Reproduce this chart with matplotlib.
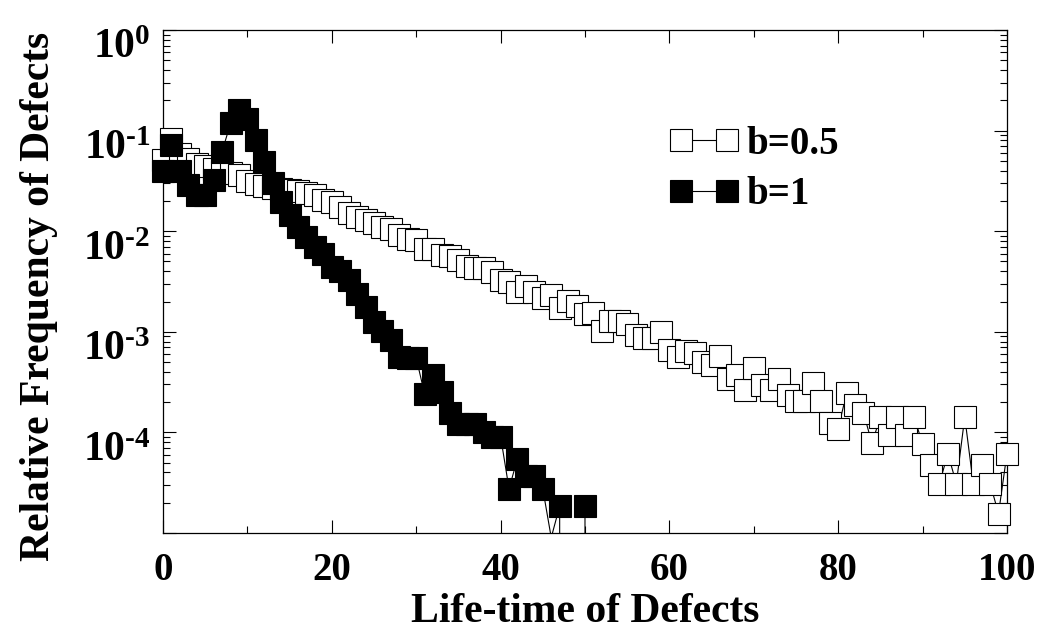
import numpy as np
import matplotlib
matplotlib.use('Agg')
import matplotlib.pyplot as plt
from matplotlib.lines import Line2D
from matplotlib.transforms import ScaledTranslation
from matplotlib.ticker import FixedLocator, FixedFormatter, LogLocator, NullFormatter, MultipleLocator

# life-time of defects (x) and relative frequency
life_b05 = list(range(0, 101))
freq_b05 = [0.051, 0.082, 0.059, 0.052, 0.047, 0.0446, 0.042, 0.039, 0.0376, 0.0362,
            0.0318, 0.0292, 0.0282, 0.027, 0.026, 0.0255, 0.0251, 0.0238, 0.0229, 0.0204,
            0.0195, 0.0173, 0.0153, 0.0139, 0.0129, 0.0120, 0.0109, 0.0104, 0.00916, 0.0083,
            0.0081, 0.0067, 0.0067, 0.0058, 0.0057, 0.00517, 0.0045, 0.00427, 0.0043, 0.0039,
            0.00327, 0.00316, 0.00248, 0.00285, 0.00248, 0.00218, 0.00232, 0.00172, 0.00202, 0.0018,
            0.00149, 0.00155, 0.00102, 0.00129, 0.00129, 0.00119, 9.3e-4, 8.7e-4, 8.6e-4, 9.9e-4,
            6.6e-4, 5.6e-4, 6.4e-4, 6.2e-4, 5.0e-4, 4.66e-4, 5.73e-4, 3.38e-4, 3.76e-4, 2.63e-4,
            4.35e-4, 2.99e-4, 2.63e-4, 3.4e-4, 2.34e-4, 2.04e-4, 2.04e-4, 3.13e-4, 2.04e-4, 1.24e-4,
            1.09e-4, 2.47e-4, 1.86e-4, 1.57e-4, 7.8e-5, 1.42e-4, 9.4e-5, 1.42e-4, 9.4e-5, 1.42e-4,
            7.7e-5, 4.7e-5, 3.1e-5, 6.15e-5, 3.1e-5, 1.42e-4, 3.1e-5, 4.7e-5, 3.1e-5, 1.56e-5,
            6.15e-5]

life_b1 = list(range(0, 51))
freq_b1 = [0.040, 0.072, 0.040, 0.029, 0.023, 0.023, 0.032, 0.062, 0.118, 0.16,
           0.13, 0.081, 0.049, 0.030, 0.0196, 0.0144, 0.011, 0.0088, 0.0070, 0.0060,
           0.0044, 0.0040, 0.00325, 0.0024, 0.00177, 0.00126, 0.00103, 8.3e-4, 5.6e-4, 5.5e-4,
           5.5e-4, 2.4e-4, 3.75e-4, 2.5e-4, 1.56e-4, 1.2e-4, 1.2e-4, 1.2e-4, 1.0e-4, 9.1e-5,
           9.1e-5, 2.75e-5, 5.5e-5, 3.7e-5, 3.7e-5, 2.75e-5, 9.0e-6, 1.85e-5, 0.0, 0.0,
           1.85e-5]

series_labels = ['b=0.5', 'b=1']
y_decades = [1e0, 1e-1, 1e-2, 1e-3, 1e-4, 1e-5]
y_ticklabels = [r'$\mathbf{10^{0}}$', r'$\mathbf{10^{\text{-}1}}$', r'$\mathbf{10^{\text{-}2}}$',
                r'$\mathbf{10^{\text{-}3}}$', r'$\mathbf{10^{\text{-}4}}$', '']

plt.rcParams['font.family'] = 'Liberation Serif'
plt.rcParams['font.weight'] = 'bold'
plt.rcParams['mathtext.fontset'] = 'custom'
plt.rcParams['mathtext.rm'] = 'Liberation Serif:bold'
plt.rcParams['mathtext.bf'] = 'Liberation Serif:bold'
plt.rcParams['mathtext.it'] = 'Liberation Serif:bold'

FS = 28
MS = 16
YMIN, YMAX = 1e-5, 1e0

fig = plt.figure(figsize=(10.41, 6.43), dpi=100)
ax = fig.add_axes([0.1566, 0.1711, 0.9673 - 0.1566, 0.9533 - 0.1711])

ax.set_yscale('log')

# connecting lines (clipped), then unclipped markers on top of the frame
styles = [dict(mfc='white'), dict(mfc='black')]
for xs, ys, st in [(life_b05, freq_b05, styles[0]), (life_b1, freq_b1, styles[1])]:
    ys = np.array(ys, dtype=float)
    ax.plot(xs, ys, '-', color='black', lw=0.8, zorder=2)
    # points below the axis floor get no marker
    ax.plot(xs, np.where(ys >= YMIN, ys, np.nan), 's', ms=MS, mec='black', mew=0.8,
            clip_on=False, zorder=3, **st)

ax.set_xlim(0, 100)
ax.set_ylim(YMIN, YMAX)

ax.xaxis.set_major_locator(MultipleLocator(20))
ax.xaxis.set_minor_locator(MultipleLocator(10))
ax.yaxis.set_major_locator(FixedLocator(y_decades))
ax.yaxis.set_major_formatter(FixedFormatter(y_ticklabels))
ax.yaxis.set_minor_locator(LogLocator(base=10, subs=np.arange(2, 10), numticks=20))
ax.yaxis.set_minor_formatter(NullFormatter())

ax.tick_params(which='both', direction='in', top=True, right=True, width=0.8)
ax.tick_params(which='major', length=9.5)
ax.tick_params(which='minor', length=5)
ax.tick_params(axis='x', which='major', labelsize=FS, pad=14)
ax.tick_params(axis='y', which='major', labelsize=30, pad=9)
for sp in ax.spines.values():
    sp.set_linewidth(0.9)

# the decade labels sit a little below their ticks
shift = ScaledTranslation(0, -10 / 72, fig.dpi_scale_trans)
for lab in ax.get_yticklabels():
    lab.set_transform(lab.get_transform() + shift)

ax.set_xlabel('Life-time of Defects', fontsize=30, fontweight='bold')
ax.set_ylabel('Relative Frequency of Defects', fontsize=30, fontweight='bold')
ax.xaxis.set_label_coords(0.5, -0.12)
ax.yaxis.set_label_coords(-0.125, 0.47)

handles = [Line2D([], [], color='black', lw=0.8, marker='s', ms=MS, mec='black',
                  mew=0.8, **st) for st in styles]
ax.legend(handles, series_labels, loc='upper left', bbox_to_anchor=(0.600, 0.81),
          frameon=False, numpoints=2, handlelength=1.78, handletextpad=0.2,
          labelspacing=0.35, borderpad=0, borderaxespad=0, fontsize=FS)

fig.savefig('out.png', dpi=100)
